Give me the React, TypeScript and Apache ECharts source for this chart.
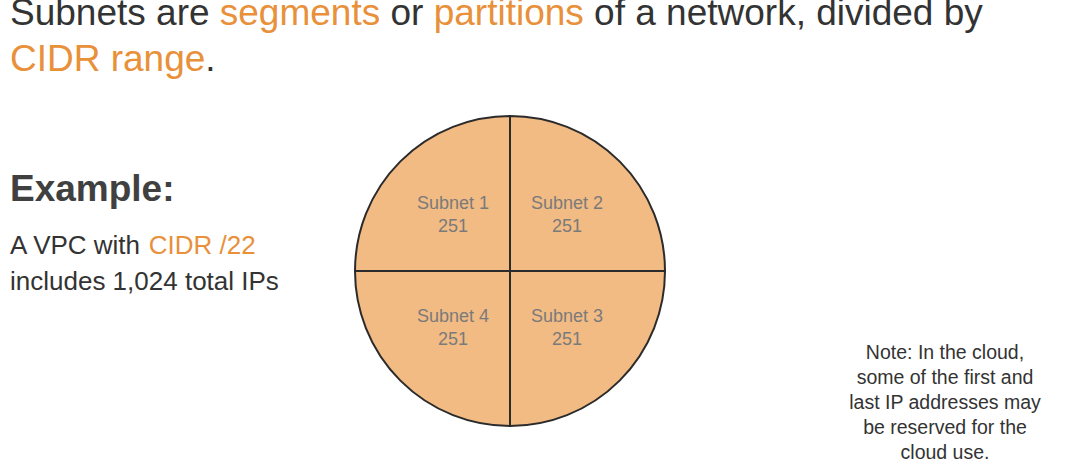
import { useEffect, useRef } from 'react';
import * as echarts from 'echarts';

// pie order starts at top-right and goes clockwise
const subnetNames = ['Subnet 2', 'Subnet 3', 'Subnet 4', 'Subnet 1'];
const subnetIps = [251, 251, 251, 251];

const ORANGE = '#E8903A';
const DARK = '#333333';

const App = () => {
  const chartRef = useRef<HTMLDivElement>(null);

  useEffect(() => {
    if (!chartRef.current) return;
    const chart = echarts.init(chartRef.current, undefined, { renderer: 'svg' });

    const font = 'Liberation Sans, Arial, sans-serif';

    const option = {
      animation: false,
      backgroundColor: '#ffffff',
      graphic: [
        {
          type: 'text',
          left: 10,
          top: -6,
          style: {
            text: '{d|Subnets are }{o|segments}{d| or }{o|partitions}{d| of a network, divided by}\n{o|CIDR range}{d|.}',
            rich: {
              d: { fontSize: 37, fontFamily: font, fill: DARK, lineHeight: 46 },
              o: { fontSize: 37, fontFamily: font, fill: ORANGE, lineHeight: 46 },
            },
          },
        },
        {
          type: 'text',
          left: 10,
          top: 170,
          style: { text: 'Example:', fontSize: 37, fontWeight: 'bold', fontFamily: font, fill: '#404040' },
        },
        {
          type: 'text',
          left: 10,
          top: 232,
          style: {
            text: '{d|A VPC with }{o|CIDR /22}\n{d|includes 1,024 total IPs}',
            rich: {
              d: { fontSize: 26, fontFamily: font, fill: DARK, lineHeight: 36 },
              o: { fontSize: 26, fontFamily: font, fill: ORANGE, lineHeight: 36 },
            },
          },
        },
        {
          type: 'text',
          x: 945,
          y: 339,
          style: {
            text: 'Note: In the cloud,\nsome of the first and\nlast IP addresses may\nbe reserved for the\ncloud use.',
            fontSize: 19.5,
            fontFamily: font,
            fill: DARK,
            align: 'center',
            lineHeight: 25,
          },
        },
      ],
      series: [
        {
          type: 'pie',
          center: [510, 271],
          radius: [0, 155],
          startAngle: 90,
          clockwise: true,
          silent: true,
          itemStyle: { color: '#F2BB84', borderColor: '#2b2b2b', borderWidth: 2 },
          label: {
            show: true,
            position: 'inside',
            formatter: '{b}\n{c}',
            color: '#7a7a7a',
            fontSize: 18,
            fontFamily: font,
            lineHeight: 23,
          },
          labelLine: { show: false },
          data: subnetNames.map((name, i) => ({ name, value: subnetIps[i] })),
        },
      ],
    };

    chart.setOption(option);
    return () => chart.dispose();
  }, []);

  return (
    <div
      ref={chartRef}
      style={{ position: 'absolute', left: 0, top: 0, width: '1065px', height: '474px' }}
    />
  );
};

export default App;
